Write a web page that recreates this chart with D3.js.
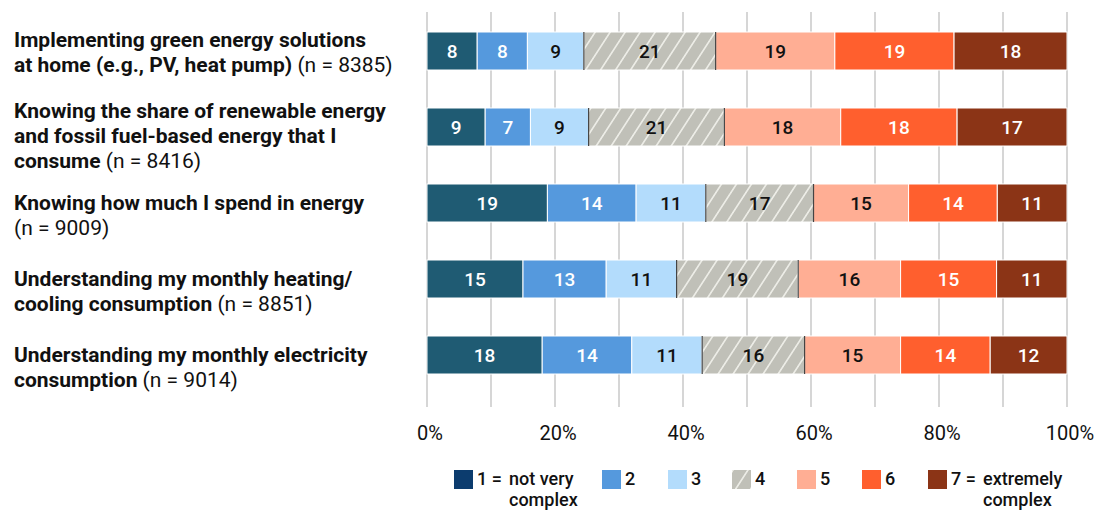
<!DOCTYPE html>
<html>
<head>
<meta charset="utf-8">
<script src="https://cdn.jsdelivr.net/npm/d3@7"></script>
<style>
  body { margin: 0; background: #fff; }
  svg { display: block; }
</style>
</head>
<body>
<div id="chart"></div>
<script>
// chart data
const categories = [
  [{b: "Implementing green energy solutions"}, {b: "at home (e.g., PV, heat pump)", r: " (n = 8385)"}],
  [{b: "Knowing the share of renewable energy"}, {b: "and fossil fuel-based energy that I"}, {b: "consume", r: "  (n = 8416)"}],
  [{b: "Knowing how much I spend in energy"}, {r: "(n = 9009)"}],
  [{b: "Understanding my monthly heating/"}, {b: "cooling consumption", r: " (n = 8851)"}],
  [{b: "Understanding my monthly electricity"}, {b: "consumption", r: " (n = 9014)"}]
];
const levels = ["1", "2", "3", "4", "5", "6", "7"];
const levelLabels = [["1 =", "not very", "complex"], ["2"], ["3"], ["4"], ["5"], ["6"], ["7 =", "extremely", "complex"]];
const values1 = [8, 9, 19, 15, 18];
const values2 = [8, 7, 14, 13, 14];
const values3 = [9, 9, 11, 11, 11];
const values4 = [21, 21, 17, 19, 16];
const values5 = [19, 18, 15, 16, 15];
const values6 = [19, 18, 14, 15, 14];
const values7 = [18, 17, 11, 11, 12];
const tickValues = [0, 0.2, 0.4, 0.6, 0.8, 1];

// layout
const width = 1099, height = 511;
const x0 = 427, x1 = 1067;
const labelShift = [11, 16, 0, 0, 0];
const colors = ["#1f5b73", "#5599dd", "#b3dcfc", "url(#hatch)", "#ffae94", "#ff5f2e", "#8b3416"];
const legendColors = ["#0c3c6e", "#5599dd", "#b3dcfc", "url(#hatch)", "#ffae94", "#ff5f2e", "#8b3416"];
const textColors = ["#fff", "#fff", "#111", "#111", "#111", "#fff", "#fff"];

const series = [values1, values2, values3, values4, values5, values6, values7];
const table = categories.map((c, i) => {
  const row = {idx: i};
  levels.forEach((l, j) => row[l] = series[j][i]);
  return row;
});

const svg = d3.select("#chart").append("svg")
  .attr("width", width)
  .attr("height", height)
  .style("font-family", "Roboto, 'Noto Sans', sans-serif");

// hatch pattern for level 4
const pat = svg.append("defs").append("pattern")
  .attr("id", "hatch")
  .attr("patternUnits", "userSpaceOnUse")
  .attr("width", 15).attr("height", 15)
  .attr("patternTransform", "skewX(-33)");
pat.append("rect").attr("width", 15).attr("height", 15).attr("fill", "#c0c0b8");
pat.append("rect").attr("x", 0).attr("width", 2).attr("height", 15).attr("fill", "#ececE6");

const x = d3.scaleLinear().domain([0, 1]).range([x0, x1]);
const y = d3.scaleBand()
  .domain(categories.map((c, i) => i))
  .range([13, 393])
  .paddingInner(0.5)
  .paddingOuter(0.25);

// gridlines every 10%
svg.append("g")
  .selectAll("line")
  .data(d3.range(0, 1.0001, 0.1))
  .join("line")
  .attr("x1", d => x(d)).attr("x2", d => x(d))
  .attr("y1", 12).attr("y2", 407)
  .attr("stroke", "#c9c9c9")
  .attr("stroke-width", 1.5);

// stacked bars
const stack = d3.stack().keys(levels).offset(d3.stackOffsetExpand);
const stacked = stack(table);

const groups = svg.append("g").selectAll("g")
  .data(stacked)
  .join("g");

groups.selectAll("rect")
  .data((s, j) => s.map(d => ({d, j})))
  .join("rect")
  .attr("x", o => x(o.d[0]))
  .attr("y", o => y(o.d.data.idx))
  .attr("width", o => x(o.d[1]) - x(o.d[0]))
  .attr("height", y.bandwidth())
  .attr("fill", o => colors[o.j])
  .attr("stroke", "#fff")
  .attr("stroke-width", 1);

// dark edges around the hatched segment
const mid = stacked[3];
svg.append("g").selectAll("line")
  .data(mid.flatMap(d => [[d[0], d.data.idx], [d[1], d.data.idx]]))
  .join("line")
  .attr("x1", d => x(d[0])).attr("x2", d => x(d[0]))
  .attr("y1", d => y(d[1])).attr("y2", d => y(d[1]) + y.bandwidth())
  .attr("stroke", "#444")
  .attr("stroke-width", 1.2);

// value labels
groups.selectAll("text")
  .data((s, j) => s.map(d => ({d, j, v: d.data[s.key]})))
  .join("text")
  .attr("x", o => (x(o.d[0]) + x(o.d[1])) / 2)
  .attr("y", o => y(o.d.data.idx) + y.bandwidth() / 2 + 7)
  .attr("text-anchor", "middle")
  .attr("font-size", 19)
  .attr("font-weight", 500)
  .attr("fill", o => textColors[o.j])
  .text(o => o.v);

// category labels
const lab = svg.append("g").selectAll("text")
  .data(categories)
  .join("text")
  .attr("font-size", 21)
  .attr("fill", "#111");

lab.each(function(lines, i) {
  const t = d3.select(this);
  const base = y(i) + y.bandwidth() / 2 + 7 - labelShift[i];
  lines.forEach((ln, k) => {
    if (ln.b) {
      t.append("tspan")
        .attr("x", 14).attr("y", base + k * 25)
        .attr("font-weight", 700)
        .text(ln.b);
      if (ln.r) t.append("tspan").attr("font-weight", 400).text(ln.r);
    } else {
      t.append("tspan")
        .attr("x", 14).attr("y", base + k * 25)
        .attr("font-weight", 400)
        .text(ln.r);
    }
  });
});

// x axis tick labels
svg.append("g").selectAll("text")
  .data(tickValues)
  .join("text")
  .attr("x", d => x(d) + 3)
  .attr("y", 440)
  .attr("text-anchor", "middle")
  .attr("font-size", 20)
  .attr("fill", "#111")
  .text(d3.format(".0%"));

// legend
const legendX = [454, 602, 668, 732, 797, 862, 928];
const leg = svg.append("g").selectAll("g")
  .data(levels)
  .join("g")
  .attr("transform", (d, j) => `translate(${legendX[j]}, 470)`);

leg.append("rect")
  .attr("width", 19).attr("height", 19)
  .attr("fill", (d, j) => legendColors[j]);

leg.each(function(d, j) {
  const g = d3.select(this);
  const parts = levelLabels[j];
  const t = g.append("text")
    .attr("font-size", 18)
    .attr("font-weight", 500)
    .attr("fill", "#111")
    .attr("y", 15);
  t.append("tspan").attr("x", 23).text(parts[0]);
  if (parts.length > 1) {
    t.append("tspan").attr("x", 55).text(parts[1]);
    t.append("tspan").attr("x", 55).attr("y", 36).text(parts[2]);
  }
});
</script>
</body>
</html>
